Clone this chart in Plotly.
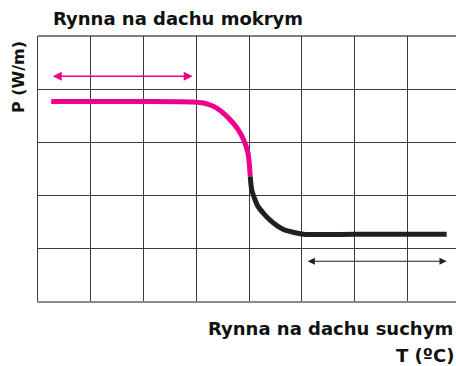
import plotly.graph_objects as go

# Data (grid units: x columns, y rows from bottom)
wet_x = [0.25, 2.0, 2.94, 3.20, 3.40, 3.60, 3.78, 3.90, 3.98, 4.02]
wet_y = [3.765, 3.765, 3.755, 3.72, 3.63, 3.46, 3.25, 3.03, 2.78, 2.35]
dry_x = [4.02, 4.05, 4.17, 4.39, 4.65, 5.03, 6.0, 7.74]
dry_y = [2.35, 2.09, 1.78, 1.53, 1.35, 1.26, 1.26, 1.26]
wet_arrow_x = [0.25, 2.93]
wet_arrow_y = 4.24
dry_arrow_x = [5.08, 7.74]
dry_arrow_y = 0.75

PINK = "#ec008c"
DARK = "#231f20"
FONT = "DejaVu Sans"

fig = go.Figure()
fig.add_trace(go.Scatter(x=wet_x, y=wet_y, mode="lines",
                         line=dict(color=PINK, width=5, shape="spline", smoothing=0.6),
                         hoverinfo="skip"))
fig.add_trace(go.Scatter(x=dry_x, y=dry_y, mode="lines",
                         line=dict(color=DARK, width=5, shape="spline", smoothing=0.6),
                         hoverinfo="skip"))

anns = []
# arrows
anns.append(dict(x=wet_arrow_x[1], y=wet_arrow_y, ax=wet_arrow_x[0], ay=wet_arrow_y,
                 xref="x", yref="y", axref="x", ayref="y", text="",
                 showarrow=True, arrowhead=2, arrowside="end+start",
                 arrowsize=1.2, arrowwidth=1.5, arrowcolor=PINK))
anns.append(dict(x=dry_arrow_x[1], y=dry_arrow_y, ax=dry_arrow_x[0], ay=dry_arrow_y,
                 xref="x", yref="y", axref="x", ayref="y", text="",
                 showarrow=True, arrowhead=2, arrowside="end+start",
                 arrowsize=1.3, arrowwidth=1.1, arrowcolor=DARK))
tf = dict(family=FONT, size=18, color="#111111", weight="bold")
anns.append(dict(text="<b>Rynna na dachu mokrym</b>", x=0.03, y=1.066, xref="paper", yref="paper",
                 xanchor="left", yanchor="middle", showarrow=False, font=tf))
anns.append(dict(text="<b>Rynna na dachu suchym</b>", x=0.403, y=-0.102, xref="paper", yref="paper",
                 xanchor="left", yanchor="middle", showarrow=False, font=tf))
anns.append(dict(text="<b>T (ºC)</b>", x=0.852, y=-0.206, xref="paper", yref="paper",
                 xanchor="left", yanchor="middle", showarrow=False, font=tf))
anns.append(dict(text="<b>P (W/m)</b>", x=-0.048, y=0.845, xref="paper", yref="paper",
                 xanchor="center", yanchor="middle", textangle=-90, showarrow=False,
                 font=dict(family=FONT, size=16, color="#111111", weight="bold")))

fig.update_layout(
    width=456, height=366,
    margin=dict(l=38, r=0, t=36, b=65, pad=0),
    paper_bgcolor="white", plot_bgcolor="white",
    showlegend=False,
    annotations=anns,
    xaxis=dict(range=[0, 7.917], dtick=1, tick0=0, showgrid=True, gridcolor="#3a3a3a",
               gridwidth=1.2, zeroline=False, showticklabels=False, ticks="",
               showline=True, linecolor="#8a8a8a", linewidth=2, fixedrange=True),
    yaxis=dict(range=[0, 5], dtick=1, tick0=0, showgrid=True, gridcolor="#3a3a3a",
               gridwidth=1.2, zeroline=False, showticklabels=False, ticks="",
               showline=True, linecolor="#3a3a3a", linewidth=1.2, fixedrange=True),
    shapes=[dict(type="line", xref="paper", yref="paper", x0=0, x1=1, y0=1, y1=1,
                 line=dict(color="#555555", width=1.5), layer="below")],
)

fig.write_html("out.html", config={"displayModeBar": False},
               post_script="document.body.style.margin='0px';document.body.style.overflow='hidden';")
